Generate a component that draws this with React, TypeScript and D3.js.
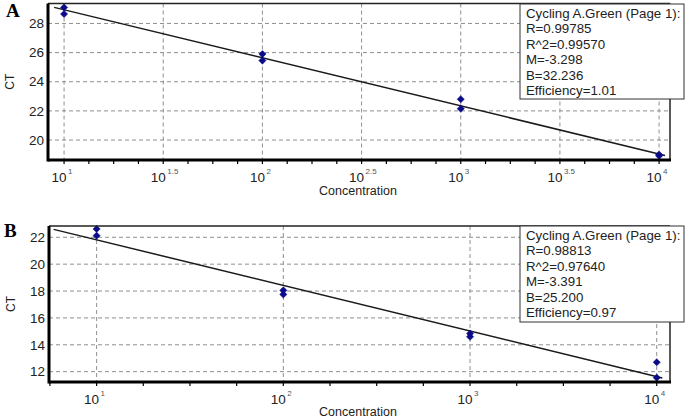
import * as d3 from "d3";

// standard curve A (replicates at each dilution)
const concA = [10, 10, 100, 100, 1000, 1000, 10000, 10000];
const ctA = [29.1, 28.65, 25.9, 25.45, 22.8, 22.15, 19.0, 18.92];
const statsA = ["Cycling A.Green (Page 1):", "R=0.99785", "R^2=0.99570", "M=-3.298", "B=32.236", "Efficiency=1.01"];
const slopeA = -3.298;
const interceptA = 32.236;
const yTicksA = [20, 22, 24, 26, 28];
const xMajorA = [1, 1.5, 2, 2.5, 3, 3.5, 4];
const xLabelsA = ["1", "1.5", "2", "2.5", "3", "3.5", "4"];

// standard curve B
const concB = [10, 10, 100, 100, 1000, 1000, 10000, 10000];
const ctB = [22.62, 22.12, 18.05, 17.75, 14.84, 14.6, 12.7, 11.55];
const statsB = ["Cycling A.Green (Page 1):", "R=0.98813", "R^2=0.97640", "M=-3.391", "B=25.200", "Efficiency=0.97"];
const slopeB = -3.391;
const interceptB = 25.2;
const yTicksB = [12, 14, 16, 18, 20, 22];
const xMajorB = [1, 2, 3, 4];
const xLabelsB = ["1", "2", "3", "4"];

const FONT = "Arial, 'Liberation Sans', sans-serif";

type PanelProps = {
  letter: string;
  conc: number[];
  ct: number[];
  stats: string[];
  slope: number;
  intercept: number;
  yTicks: number[];
  xMajor: number[];
  xLabels: string[];
  minorStep: number;
  logDomain: [number, number];
  yDomain: [number, number];
  lineRange: [number, number];
  box: { left: number; right: number; top: number; bottom: number };
  legend: { x: number; y: number; w: number; h: number };
  letterPos: [number, number];
  titleY: number;
};

function Panel(p: PanelProps) {
  const { box } = p;
  const x = d3
    .scaleLog()
    .domain([Math.pow(10, p.logDomain[0]), Math.pow(10, p.logDomain[1])])
    .range([box.left, box.right]);
  const y = d3.scaleLinear().domain(p.yDomain).range([box.bottom, box.top]);

  const minor: number[] = [];
  for (let e = p.xMajor[0]; e >= p.logDomain[0]; e -= p.minorStep) minor.push(e);
  for (let e = p.xMajor[0] + p.minorStep; e <= p.logDomain[1]; e += p.minorStep) minor.push(e);

  const fit = d3
    .line<number>()
    .x((e) => x(Math.pow(10, e)))
    .y((e) => y(p.intercept + p.slope * e));

  const marker = d3.symbol(d3.symbolSquare, 26)()!;

  return (
    <g fontFamily={FONT}>
      <text x={p.letterPos[0]} y={p.letterPos[1]} fontFamily="'Liberation Serif', 'Times New Roman', serif" fontWeight="bold" fontSize={19}>
        {p.letter}
      </text>
      {/* grid */}
      {p.yTicks.map((t) => (
        <line key={"gy" + t} x1={box.left} x2={box.right} y1={y(t)} y2={y(t)} stroke="#8f8f8f" strokeWidth={1} strokeDasharray="4,3" />
      ))}
      {p.xMajor.map((e) => (
        <line key={"gx" + e} x1={x(Math.pow(10, e))} x2={x(Math.pow(10, e))} y1={box.top} y2={box.bottom} stroke="#8f8f8f" strokeWidth={1} strokeDasharray="4,3" />
      ))}
      {/* fit line */}
      <path d={fit(p.lineRange) ?? ""} fill="none" stroke="#1a1a1a" strokeWidth={1.5} />
      {/* points */}
      {p.conc.map((c, i) => (
        <path key={"pt" + i} d={marker} transform={`translate(${x(c)},${y(p.ct[i])}) rotate(45)`} fill="#0b0b8a" stroke="#0b0b8a" strokeWidth={0.5} />
      ))}
      {/* frame */}
      <line x1={box.left} x2={box.right} y1={box.top} y2={box.top} stroke="#222" strokeWidth={1.5} />
      <line x1={box.right} x2={box.right} y1={box.top} y2={box.bottom} stroke="#222" strokeWidth={1.5} />
      <line x1={box.left} x2={box.right + 1} y1={box.bottom} y2={box.bottom} stroke="#000" strokeWidth={3} />
      <line x1={box.left} x2={box.left} y1={box.top} y2={box.bottom + 1.5} stroke="#000" strokeWidth={3} />
      {/* x ticks */}
      {minor.map((e, i) => (
        <line key={"mt" + i} x1={x(Math.pow(10, e))} x2={x(Math.pow(10, e))} y1={box.bottom} y2={box.bottom + 4} stroke="#000" strokeWidth={1.2} />
      ))}
      {p.xMajor.map((e, i) => (
        <g key={"xl" + e} transform={`translate(${x(Math.pow(10, e))},${box.bottom + 22})`}>
          <text x={-5} textAnchor="middle" fontSize={13.5} fill="#222">10</text>
          <text x={4} y={-8} fontSize={8} fill="#555">{p.xLabels[i]}</text>
        </g>
      ))}
      {/* y ticks */}
      {p.yTicks.map((t) => (
        <text key={"yl" + t} x={box.left - 4} y={y(t)} dy="0.35em" textAnchor="end" fontSize={13.5} fill="#222">
          {t}
        </text>
      ))}
      <text transform={`translate(${box.left - 34},${(box.top + box.bottom) / 2}) rotate(-90)`} textAnchor="middle" fontSize={12} fill="#222">
        CT
      </text>
      <text x={358} y={p.titleY} textAnchor="middle" fontSize={12.5} fill="#222">
        Concentration
      </text>
      {/* legend */}
      <rect x={p.legend.x} y={p.legend.y} width={p.legend.w} height={p.legend.h} fill="#fff" stroke="#333" strokeWidth={1} />
      {p.stats.map((s, i) => (
        <text key={"st" + i} x={p.legend.x + 6} y={p.legend.y + 14 + i * 15.4} fontSize={13.3} fill="#222">
          {s}
        </text>
      ))}
    </g>
  );
}

export default function App() {
  return (
    <svg width={685} height={420} style={{ position: "absolute", left: 0, top: 0, background: "#fff" }}>
      <Panel
        letter="A"
        conc={concA}
        ct={ctA}
        stats={statsA}
        slope={slopeA}
        intercept={interceptA}
        yTicks={yTicksA}
        xMajor={xMajorA}
        xLabels={xLabelsA}
        minorStep={0.125}
        logDomain={[0.919, 4.055]}
        yDomain={[18.63, 29.37]}
        lineRange={[0.95, 4.03]}
        box={{ left: 48, right: 670, top: 3.5, bottom: 160 }}
        legend={{ x: 520, y: 4, w: 164, h: 95 }}
        letterPos={[6, 17]}
        titleY={195}
      />
      <Panel
        letter="B"
        conc={concB}
        ct={ctB}
        stats={statsB}
        slope={slopeB}
        intercept={interceptB}
        yTicks={yTicksB}
        xMajor={xMajorB}
        xLabels={xLabelsB}
        minorStep={0.25}
        logDomain={[0.745, 4.071]}
        yDomain={[11.23, 22.84]}
        lineRange={[0.77, 4.03]}
        box={{ left: 49, right: 670, top: 226, bottom: 382 }}
        legend={{ x: 520, y: 226, w: 164, h: 96 }}
        letterPos={[4, 237]}
        titleY={416}
      />
    </svg>
  );
}
